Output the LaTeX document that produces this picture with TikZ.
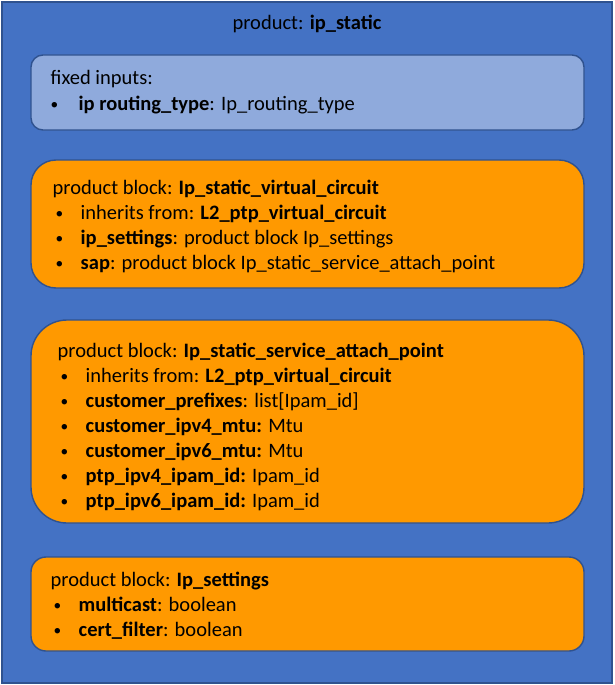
\documentclass[tikz,border=0pt]{standalone}
\usepackage{fontspec}
\setmainfont{Carlito}
\definecolor{prodblue}{HTML}{4472C4}
\definecolor{edgeblue}{HTML}{2F528F}
\definecolor{fixedblue}{HTML}{8FAADC}
\definecolor{blockorange}{HTML}{FF9900}
\newcommand{\listdot}{\raisebox{1pt}{\scalebox{0.75}{\textbullet}}}
\newcommand{\bul}{\hspace*{3pt}\makebox[25pt][l]{\listdot}}
\begin{document}
\begin{tikzpicture}[x=1pt, y=-1pt,
                    line width=1.4pt,
                    font=\fontsize{20.5}{25}\selectfont,
                    ]
    \tikzstyle{frame}=[rectangle,draw=edgeblue,fill=prodblue,inner sep=0pt,minimum width=610pt,minimum height=681pt]
    \tikzstyle{fixedbox}=[rectangle,draw=edgeblue,fill=fixedblue,inner sep=0pt,minimum width=553pt,rounded corners=12pt]
    \tikzstyle{blockbox}=[fixedbox,fill=blockorange]
    \tikzstyle{listtext}=[align=left,inner sep=0pt,anchor=base west]

    \useasboundingbox (0,0) rectangle (614,685);

    \node[frame] (product) at (307,342.5) {};
    \node[anchor=base] (title) at (307,30) {product: \textbf{ip\_static}};

    \node[fixedbox,minimum height=75pt] (fixed) at (307.5,92.5) {};
    \node[blockbox,minimum height=128pt,rounded corners=25pt] (vc) at (307.5,224) {};
    \node[blockbox,minimum height=203pt,rounded corners=36pt] (sap) at (307.5,421.5) {};
    \node[blockbox,minimum height=94pt,rounded corners=15pt] (settings) at (307.5,604) {};

    % base anchor = last line
    \node[listtext] (fixedtext) at (50,110) {fixed inputs:\\
        \makebox[28pt][l]{\listdot}\textbf{ip routing\_type}: Ip\_routing\_type};
    \node[listtext] (vctext) at (52,269) {product block: \textbf{Ip\_static\_virtual\_circuit}\\
        \bul inherits from: \textbf{L2\_ptp\_virtual\_circuit}\\
        \bul \textbf{ip\_settings}: product block Ip\_settings\\
        \bul \textbf{sap}: product block Ip\_static\_service\_attach\_point};
    \node[listtext] (saptext) at (57,507) {product block: \textbf{Ip\_static\_service\_attach\_point}\\
        \bul inherits from: \textbf{L2\_ptp\_virtual\_circuit}\\
        \bul \textbf{customer\_prefixes}: list[Ipam\_id]\\
        \bul \textbf{customer\_ipv4\_mtu:} Mtu\\
        \bul \textbf{customer\_ipv6\_mtu:} Mtu\\
        \bul \textbf{ptp\_ipv4\_ipam\_id:} Ipam\_id\\
        \bul \textbf{ptp\_ipv6\_ipam\_id:} Ipam\_id};
    \node[listtext] (settingstext) at (50,636) {product block: \textbf{Ip\_settings}\\
        \bul \textbf{multicast}: boolean\\
        \bul \textbf{cert\_filter}: boolean};
\end{tikzpicture}
\end{document}
